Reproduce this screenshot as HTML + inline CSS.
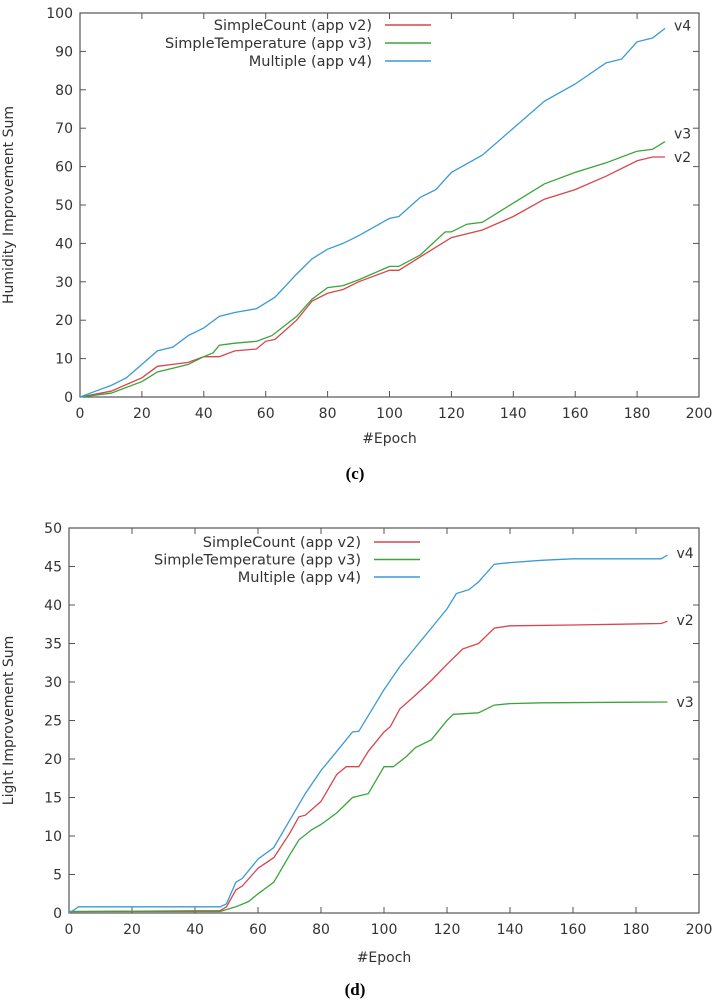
<!DOCTYPE html>
<html><head><meta charset="utf-8"><style>
body{margin:0;background:#fff;width:713px;height:1000px;overflow:hidden}
svg{display:block}
text{font-family:"DejaVu Sans","Liberation Sans",sans-serif;fill:#333}
.cap{font-family:"Liberation Serif",serif;font-weight:bold;fill:#000;font-size:17px}
</style></head><body>
<svg id="svg" width="713" height="1000">
<text class="cap" x="355" y="479" text-anchor="middle">(c)</text>
<text class="cap" x="355" y="995" text-anchor="middle">(d)</text>
</svg>
<script>
const xTicks=[0,20,40,60,80,100,120,140,160,180,200];
const topYTicks=[0,10,20,30,40,50,60,70,80,90,100];
const botYTicks=[0,5,10,15,20,25,30,35,40,45,50];
const seriesNames=["SimpleCount (app v2)","SimpleTemperature (app v3)","Multiple (app v4)"];
const seriesTags=["v2","v3","v4"];
const colors=["#d9454b","#3aa53a","#3a9ad8"];
// Humidity chart
const hV2x=[0,10,20,25,30,35,40,45,50,57,60,63,70,75,80,85,90,100,103,110,120,130,140,150,160,170,180,185,189];
const hV2y=[0,1.5,5,8,8.5,9,10.5,10.5,12,12.5,14.5,15,20,25,27,28,30,33,33,36.5,41.5,43.5,47,51.5,54,57.5,61.5,62.5,62.5];
const hV3x=[0,10,20,25,30,35,40,43,45,50,57,62,70,75,80,85,90,100,103,110,118,120,125,130,140,150,160,170,180,185,189];
const hV3y=[0,1,4,6.5,7.5,8.5,10.5,11.5,13.5,14,14.5,16,21,25.5,28.5,29,30.5,34,34,37,43,43,45,45.5,50.5,55.5,58.5,61,64,64.5,66.5];
const hV4x=[0,5,10,15,20,25,30,35,40,45,50,57,60,63,70,75,80,85,90,100,103,110,115,120,130,140,150,160,170,175,180,185,189];
const hV4y=[0,1.5,3,5,8.5,12,13,16,18,21,22,23,24.5,26,32,36,38.5,40,42,46.5,47,52,54,58.5,63,70,77,81.5,87,88,92.5,93.5,96];
// Light chart
const lV2x=[0,2,48,50,53,55,60,65,70,73,75,80,85,88,92,95,100,102,105,110,115,120,125,130,135,140,160,188,190];
const lV2y=[0.2,0.2,0.3,0.8,3,3.5,5.8,7.2,10.3,12.5,12.7,14.5,18,19,19,21,23.5,24.2,26.5,28.3,30.2,32.3,34.3,35,37,37.3,37.4,37.6,37.9];
const lV3x=[0,2,48,53,57,60,65,70,73,77,80,85,90,95,100,103,107,110,115,120,122,130,135,140,150,190];
const lV3y=[0.2,0.2,0.2,0.8,1.5,2.5,4,7.5,9.5,10.8,11.5,13,15,15.5,19,19,20.3,21.5,22.5,25,25.8,26,27,27.2,27.3,27.4];
const lV4x=[0,2,3,48,50,53,55,60,65,70,75,80,85,90,92,100,105,110,115,120,123,127,130,135,140,150,160,188,190];
const lV4y=[0,0.5,0.8,0.8,1.2,4,4.5,7,8.5,12,15.5,18.5,21,23.5,23.6,29,32,34.5,37,39.5,41.5,42,43,45.3,45.5,45.8,46,46,46.5];

const NS="http://www.w3.org/2000/svg";
const svg=document.getElementById('svg');
function mk(tag,attrs,parent){const e=document.createElementNS(NS,tag);for(const k in attrs)e.setAttribute(k,attrs[k]);(parent||svg).appendChild(e);return e;}

function chart(cfg){
  const g=mk('g',{});
  
  
  const xs=v=>cfg.x0+(cfg.x1-cfg.x0)*v/200;
  const ys=v=>cfg.y0-(cfg.y0-cfg.y1)*v/cfg.ymax;
  xTicks.forEach(t=>{
    const x=xs(t);
    mk('line',{x1:x,x2:x,y1:cfg.y0,y2:cfg.y0-6,stroke:'#555'},g);
    mk('line',{x1:x,x2:x,y1:cfg.y1,y2:cfg.y1+6,stroke:'#555'},g);
    const tx=mk('text',{x:x,y:cfg.y0+21,'text-anchor':'middle','font-size':'14'},g);
    tx.textContent=t;
    
    
  });
  cfg.yTicks.forEach(t=>{
    const y=ys(t);
    mk('line',{x1:cfg.x0,x2:cfg.x0+6,y1:y,y2:y,stroke:'#555'},g);
    mk('line',{x1:cfg.x1,x2:cfg.x1-6,y1:y,y2:y,stroke:'#555'},g);
    const tx=mk('text',{x:cfg.x0-7,y:y+5,'text-anchor':'end','font-size':'14'},g);
    tx.textContent=t;
    
    
  });
  const fr=mk('rect',{x:cfg.x0,y:cfg.y1,width:cfg.x1-cfg.x0,height:cfg.y0-cfg.y1,fill:'none',stroke:'#555','stroke-width':1.2},g);
  
  
  const xl=mk('text',{x:(cfg.x0+cfg.x1)/2,y:cfg.y0+cfg.xtOff,'text-anchor':'middle','font-size':'14'},g);
  xl.textContent='#Epoch';
  
  
  const yl=mk('text',{x:0,y:0,'text-anchor':'middle','font-size':'14',transform:`translate(13,${(cfg.y0+cfg.y1)/2}) rotate(-90)`},g);
  yl.textContent=cfg.ytitle;
  
  
  cfg.series.forEach((s,i)=>{
    const d=s[0].map((v,j)=>(j?'L':'M')+xs(v).toFixed(1)+','+ys(s[1][j]).toFixed(1)).join(' ');
    const p=mk('path',{d:d,fill:'none',stroke:colors[i],'stroke-width':1.3},g);
    
    
    const lx=s[0][s[0].length-1], ly=s[1][s[1].length-1];
    const tag=mk('text',{x:xs(lx)+9,y:ys(ly)+cfg.tagOff[i],'font-size':'14'},g);
    tag.textContent=seriesTags[i];
    
    
    const ry=cfg.legY+i*cfg.legStep;
    const lt=mk('text',{x:cfg.legX,y:ry+5,'text-anchor':'end','font-size':'14.5'},g);
    lt.textContent=seriesNames[i];
    
    
    const ll=mk('line',{x1:cfg.legX+13,x2:cfg.legX+59,y1:ry,y2:ry,stroke:colors[i],'stroke-width':1.5},g);
    
    
  });
}
chart({name:'humidity-chart',x0:80,x1:699,y0:397,y1:13,ymax:100,yTicks:topYTicks,ytitle:'Humidity Improvement Sum',
  series:[[hV2x,hV2y],[hV3x,hV3y],[hV4x,hV4y]],tagOff:[5,-3,2],legX:372,legY:25,legStep:18,xtOff:46});
chart({name:'light-chart',x0:69,x1:699,y0:913,y1:528,ymax:50,yTicks:botYTicks,ytitle:'Light Improvement Sum',
  series:[[lV2x,lV2y],[lV3x,lV3y],[lV4x,lV4y]],tagOff:[4,5,3],legX:361,legY:542,legStep:17.5,xtOff:49});
</script>
</body></html>
